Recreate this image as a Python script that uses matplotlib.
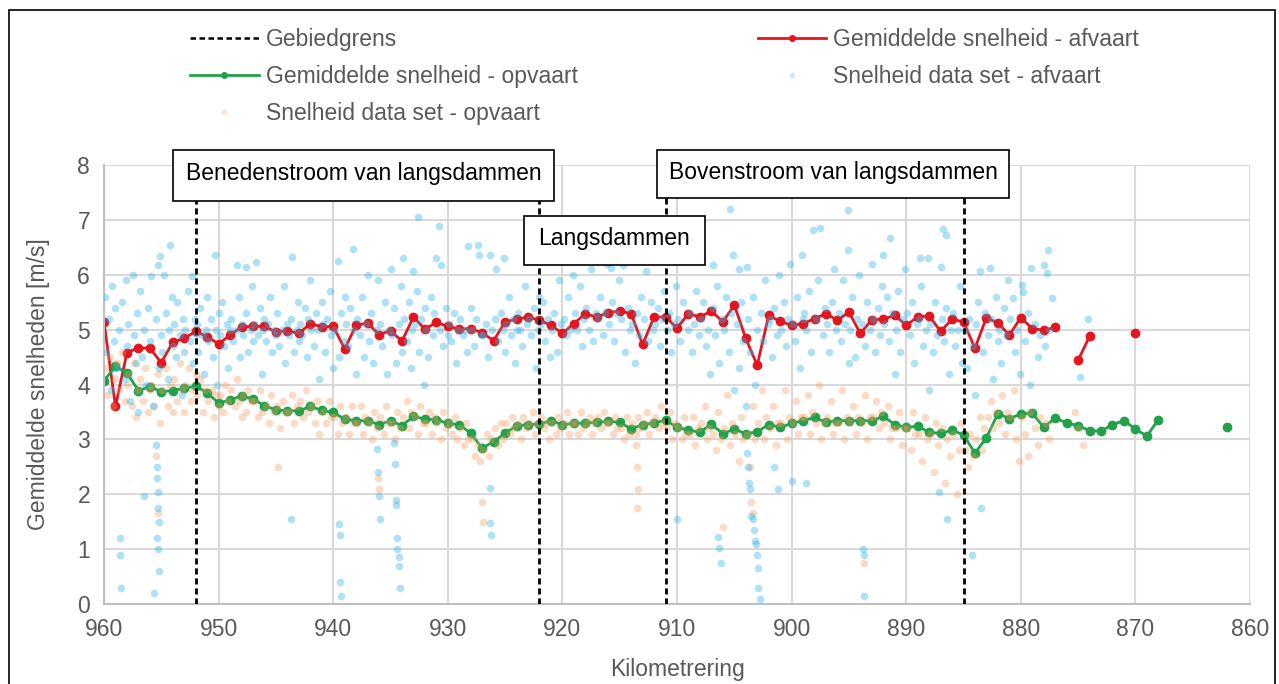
import numpy as np
import matplotlib.pyplot as plt
from matplotlib.lines import Line2D
from matplotlib.patches import Rectangle

plt.rcParams['font.family'] = ['Liberation Sans', 'DejaVu Sans']

nan = np.nan

# Gemiddelde snelheid per kilometer (afvaart), km 960 -> 870
km_afvaart = np.arange(960, 869, -1)
v_afvaart = [
    5.14, 3.60, 4.58, 4.67, 4.66, 4.40, 4.77, 4.84, 4.97, 4.87,
    4.74, 4.90, 5.05, 5.06, 5.06, 4.96, 4.98, 4.93, 5.11, 5.05,
    5.06, 4.65, 5.08, 5.12, 4.91, 4.98, 4.79, 5.23, 5.01, 5.13,
    5.06, 5.01, 5.02, 4.94, 4.80, 5.14, 5.19, 5.23, 5.17, 5.08,
    4.93, 5.11, 5.29, 5.23, 5.31, 5.34, 5.29, 4.73, 5.23, 5.23,
    5.03, 5.29, 5.23, 5.34, 5.14, 5.45, 4.84, 4.35, 5.26, 5.15,
    5.08, 5.11, 5.20, 5.29, 5.17, 5.32, 4.93, 5.18, 5.19, 5.26,
    5.08, 5.23, 5.25, 4.97, 5.19, 5.14, 4.66, 5.22, 5.12, 4.90,
    5.22, 5.02, 4.99, 5.04, nan, 4.44, 4.88, nan, nan, nan,
    4.93,
]

# Gemiddelde snelheid per kilometer (opvaart), km 960 -> 862
km_opvaart = np.arange(960, 861, -1)
v_opvaart = [
    4.07, 4.33, 4.21, 3.89, 3.96, 3.87, 3.89, 3.93, 3.97, 3.85,
    3.66, 3.72, 3.79, 3.74, 3.61, 3.54, 3.52, 3.52, 3.60, 3.53,
    3.49, 3.37, 3.34, 3.34, 3.27, 3.34, 3.25, 3.42, 3.37, 3.36,
    3.29, 3.27, 3.11, 2.84, 2.96, 3.11, 3.25, 3.27, 3.28, 3.34,
    3.27, 3.29, 3.30, 3.31, 3.33, 3.31, 3.19, 3.27, 3.30, 3.35,
    3.22, 3.17, 3.13, 3.28, 3.10, 3.19, 3.10, 3.14, 3.27, 3.22,
    3.29, 3.34, 3.40, 3.31, 3.34, 3.34, 3.34, 3.34, 3.42, 3.27,
    3.22, 3.24, 3.13, 3.11, 3.17, 3.08, 2.75, 3.03, 3.47, 3.38,
    3.46, 3.48, 3.22, 3.39, 3.30, 3.25, 3.16, 3.15, 3.27, 3.34,
    3.19, 3.06, 3.36, nan, nan, nan, nan, nan, 3.23,
]

# Gebiedsgrenzen (km)
gebiedgrens = [952, 922, 911, 885]

# Losse metingen afvaart (km, m/s)
data_afvaart = [
    (959.9, 5.6), (959.8, 4.6), (959.6, 5.2), (959.4, 3.9), (959.3, 5.8), (959.1, 4.8), (959.0, 5.4),
    (958.9, 4.3), (958.7, 5.0), (958.6, 1.2), (958.6, 0.9), (958.5, 0.3), (958.4, 5.5), (958.2, 4.1), (958.1, 5.9), (958.0, 4.7),
    (957.9, 5.1), (957.7, 3.7), (957.5, 6.0), (957.4, 4.9), (957.2, 4.4), (957.1, 5.3), (957.0, 3.5),
    (956.9, 5.7), (956.7, 4.5), (956.5, 1.97), (956.5, 5.0), (956.3, 4.0), (956.2, 5.4), (956.0, 4.8),
    (955.9, 5.98), (955.7, 3.6), (955.5, 2.9), (955.4, 2.5), (955.4, 2.3), (955.3, 2.05), (955.3, 1.75), (955.2, 1.5),
    (955.4, 1.2), (955.3, 1.0), (955.2, 0.6), (955.6, 0.2), (955.3, 6.18), (955.1, 6.34), (955.0, 4.9), (955.5, 5.2), (955.2, 4.3),
    (954.8, 5.99), (954.2, 6.54), (954.9, 4.6), (954.6, 5.3), (954.4, 4.1), (954.3, 5.0), (954.1, 5.6), (954.0, 4.7),
    (953.9, 5.1), (953.7, 4.5), (953.6, 5.5), (953.4, 4.9), (953.2, 3.8), (953.1, 5.2), (953.0, 4.6),
    (952.9, 5.0), (952.7, 5.7), (952.5, 4.8), (952.3, 5.98), (952.2, 4.4), (952.1, 5.2), (952.0, 4.9),
    (951.9, 5.1), (951.8, 4.6), (951.6, 5.4), (951.4, 4.9), (951.3, 4.2), (951.1, 5.0), (951.0, 5.6),
    (950.9, 4.8), (950.7, 5.2), (950.5, 4.5), (950.3, 6.36), (950.2, 5.0), (950.1, 4.0), (950.0, 5.3),
    (949.9, 4.9), (949.7, 5.5), (949.5, 4.7), (949.3, 5.1), (949.2, 4.3), (949.0, 5.0),
    (948.9, 5.2), (948.7, 4.8), (948.4, 6.17), (948.4, 5.0), (948.2, 5.6), (948.1, 4.5), (948.0, 5.1),
    (947.9, 4.9), (947.6, 6.15), (947.6, 5.3), (947.4, 4.6), (947.2, 5.0), (947.1, 5.8), (947.0, 4.8),
    (946.9, 5.1), (946.7, 6.24), (946.6, 4.9), (946.4, 5.4), (946.2, 4.2), (946.1, 5.0), (946.0, 5.2),
    (945.9, 4.8), (945.7, 5.1), (945.5, 5.6), (945.3, 4.6), (945.2, 5.0), (945.0, 4.9),
    (944.9, 5.3), (944.7, 4.7), (944.5, 5.0), (944.3, 5.8), (944.2, 4.4), (944.0, 5.1),
    (943.9, 4.9), (943.7, 5.2), (943.6, 6.32), (943.7, 1.54), (943.4, 4.6), (943.2, 5.0), (943.1, 5.5), (943.0, 4.8),
    (942.9, 5.1), (942.7, 4.9), (942.5, 5.4), (942.3, 4.5), (942.2, 5.2), (942.0, 5.9),
    (941.9, 5.0), (941.7, 4.7), (941.5, 5.3), (941.3, 5.0), (941.2, 4.1), (941.0, 5.5),
    (940.9, 5.1), (940.7, 4.6), (940.5, 5.2), (940.3, 5.7), (940.2, 4.9), (940.0, 4.3),
    (939.9, 5.0), (939.6, 6.25), (939.5, 1.45), (939.4, 1.26), (939.4, 0.4), (939.3, 0.15), (939.5, 4.5), (939.3, 5.3), (939.1, 4.8), (939.0, 5.6),
    (938.9, 5.1), (938.3, 6.47), (938.7, 4.7), (938.5, 5.4), (938.2, 5.0), (938.0, 4.2),
    (937.9, 5.2), (937.7, 4.9), (937.5, 5.6), (937.3, 4.5), (937.1, 5.1), (937.0, 6.0),
    (936.9, 4.8), (936.2, 2.82), (936.1, 2.4), (936.0, 1.97), (935.9, 1.54), (936.7, 5.3), (936.5, 4.4), (936.3, 5.0), (936.1, 5.9),
    (935.9, 5.1), (935.7, 4.7), (935.5, 5.5), (935.3, 4.2), (935.1, 5.0), (935.0, 6.1),
    (934.7, 2.93), (934.6, 2.55), (934.5, 1.9), (934.5, 1.8), (934.4, 1.2), (934.4, 1.0), (934.3, 0.85), (934.3, 0.7), (934.2, 0.3),
    (934.9, 4.9), (934.7, 5.4), (934.5, 4.4), (934.3, 5.1), (934.1, 5.8), (934.0, 4.6),
    (933.9, 6.3), (933.0, 6.06), (933.8, 5.2), (933.6, 4.8), (933.4, 5.5), (933.2, 4.3), (933.1, 5.0),
    (932.6, 7.05), (932.9, 5.1), (932.7, 5.7), (932.5, 4.6), (932.3, 5.2), (932.1, 4.0), (932.0, 5.4),
    (931.0, 6.3), (931.9, 5.0), (931.7, 4.5), (931.5, 5.6), (931.3, 4.9), (931.2, 5.3),
    (930.8, 6.89), (930.6, 6.18), (930.7, 5.0), (930.4, 4.7), (930.2, 5.4), (930.0, 4.9),
    (929.9, 5.1), (929.7, 4.8), (929.5, 5.3), (929.3, 4.4), (929.1, 5.0),
    (928.2, 6.52), (928.9, 5.2), (928.7, 4.9), (928.5, 5.0), (928.3, 4.6), (928.0, 5.4),
    (927.4, 6.54), (927.3, 6.36), (927.9, 5.0), (927.7, 4.7), (927.5, 5.2), (927.1, 4.9),
    (926.3, 6.36), (926.3, 2.12), (926.3, 1.48), (926.2, 1.26), (926.9, 4.9), (926.7, 5.1), (926.5, 4.5), (926.1, 5.0),
    (925.8, 6.1), (925.1, 6.3), (925.9, 5.2), (925.6, 4.8), (925.4, 5.3), (925.2, 5.0), (925.0, 4.6),
    (924.9, 5.1), (924.7, 5.6), (924.5, 4.9), (924.3, 5.2), (924.1, 4.4), (924.0, 5.0),
    (923.9, 5.3), (923.7, 5.0), (923.5, 4.7), (923.3, 5.8), (923.1, 5.1),
    (922.9, 5.2), (922.7, 4.9), (922.5, 5.4), (922.3, 4.3), (922.1, 5.0), (922.0, 5.6),
    (921.9, 5.1), (921.7, 5.5), (921.5, 4.8), (921.3, 5.2), (921.1, 4.5),
    (920.9, 5.0), (920.7, 5.3), (920.5, 4.6), (920.3, 5.9), (920.1, 5.1),
    (919.9, 5.2), (919.7, 4.9), (919.5, 5.6), (919.3, 5.0), (919.1, 6.0),
    (918.9, 5.3), (918.7, 5.0), (918.5, 5.8), (918.3, 4.7), (918.1, 5.2),
    (917.9, 5.4), (917.7, 5.0), (917.5, 6.1), (917.3, 4.8), (917.1, 5.3),
    (915.8, 6.12), (916.9, 5.2), (916.7, 5.6), (916.5, 4.9), (916.3, 5.3), (916.1, 6.2),
    (914.7, 6.18), (915.9, 5.1), (915.7, 5.5), (915.5, 4.8), (915.3, 5.3), (915.1, 5.9),
    (914.9, 5.2), (914.5, 4.6), (914.3, 5.4), (914.1, 5.0),
    (912.7, 6.06), (913.9, 5.1), (913.7, 4.4), (913.5, 5.3), (913.3, 4.9), (913.1, 5.6),
    (912.9, 5.2), (912.5, 4.8), (912.3, 5.5), (912.1, 5.0),
    (911.9, 5.1), (911.7, 5.4), (911.5, 4.7), (911.3, 5.2), (911.1, 5.7),
    (910.0, 1.54), (910.9, 5.0), (910.7, 5.3), (910.5, 4.6), (910.3, 5.1), (910.1, 5.8),
    (909.2, 6.3), (909.9, 5.2), (909.7, 4.8), (909.5, 5.5), (909.0, 5.0),
    (908.9, 5.3), (908.7, 4.6), (908.5, 5.1), (908.3, 5.7), (908.1, 4.9),
    (906.9, 6.18), (907.9, 5.2), (907.7, 5.5), (907.5, 4.7), (907.3, 5.0), (907.1, 4.2),
    (906.4, 1.23), (906.3, 1.02), (906.2, 0.75), (906.9, 5.4), (906.7, 4.9), (906.5, 5.8), (906.3, 4.4), (906.1, 5.2),
    (905.4, 7.2), (905.1, 6.36), (905.9, 5.0), (905.7, 5.6), (905.5, 4.6), (905.3, 5.3), (905.0, 3.9),
    (904.6, 6.1), (903.9, 6.15), (904.8, 5.1), (904.6, 4.3), (904.4, 5.5), (904.2, 4.8), (904.0, 3.6),
    (903.9, 2.76), (903.8, 2.5), (903.7, 2.2), (903.6, 2.1), (903.5, 1.6), (903.4, 1.55), (903.3, 1.35), (903.2, 1.15),
    (903.1, 1.1), (903.0, 0.9), (902.9, 0.65), (902.9, 0.3), (902.8, 0.1),
    (903.8, 5.2), (903.6, 4.6), (903.4, 5.6), (903.2, 4.0), (903.0, 5.0),
    (902.7, 5.3), (902.5, 4.8), (902.3, 5.9), (902.1, 5.1),
    (901.5, 2.5), (901.2, 2.1), (901.9, 5.2), (901.7, 4.5), (901.5, 5.4), (901.3, 4.9), (901.1, 6.0),
    (900.0, 2.25), (898.7, 2.2), (900.9, 5.0), (900.7, 5.5), (900.5, 4.7), (900.3, 5.2), (900.1, 6.2),
    (899.1, 6.36), (899.9, 5.1), (899.7, 4.8), (899.5, 5.6), (899.3, 4.3), (899.0, 5.2),
    (898.1, 6.82), (897.5, 6.85), (898.9, 5.3), (898.7, 5.0), (898.5, 5.7), (898.3, 4.6),
    (897.9, 5.2), (897.7, 5.9), (897.3, 4.9), (897.1, 5.4),
    (896.9, 5.1), (896.7, 4.6), (896.5, 5.5), (896.3, 6.1), (896.1, 5.0),
    (895.1, 7.18), (895.1, 6.45), (895.9, 5.3), (895.7, 4.8), (895.5, 5.9), (895.3, 5.1), (895.0, 4.4),
    (893.8, 1.0), (893.7, 0.9), (893.7, 0.15), (894.9, 5.0), (894.7, 5.6), (894.5, 4.5), (894.3, 5.2), (894.1, 6.0),
    (893.9, 5.1), (893.6, 4.7), (893.4, 5.5), (893.2, 5.0), (893.0, 6.2),
    (892.0, 6.36), (892.9, 5.2), (892.7, 4.6), (892.5, 5.4), (892.3, 4.9), (892.1, 5.8),
    (891.4, 6.67), (891.9, 5.1), (891.7, 5.6), (891.5, 4.8), (891.2, 5.3), (891.0, 4.2),
    (890.9, 5.0), (890.7, 5.7), (890.5, 4.6), (890.3, 5.2), (890.1, 6.1),
    (888.8, 6.3), (889.9, 5.3), (889.7, 4.9), (889.5, 5.5), (889.3, 4.4), (889.1, 5.1),
    (888.1, 6.3), (888.9, 5.2), (888.7, 5.8), (888.5, 4.7), (888.3, 5.0), (888.0, 3.9),
    (887.1, 2.05), (886.8, 6.84), (886.5, 6.72), (887.0, 6.15), (887.9, 5.1), (887.7, 4.6), (887.5, 5.5), (887.3, 4.9),
    (886.4, 1.55), (886.9, 5.2), (886.7, 4.8), (886.5, 5.4), (886.3, 4.2), (886.1, 5.0),
    (885.9, 5.3), (885.7, 4.7), (885.5, 5.0), (885.3, 5.8), (885.1, 4.4),
    (884.3, 0.9), (883.6, 6.06), (884.9, 5.0), (884.7, 4.3), (884.5, 5.2), (884.2, 4.7), (884.0, 3.8),
    (883.5, 1.75), (882.7, 6.12), (883.9, 5.1), (883.7, 5.5), (883.3, 4.6), (883.1, 5.3),
    (882.9, 4.9), (882.6, 5.2), (882.4, 4.1), (882.2, 5.6), (882.0, 4.8),
    (881.9, 5.0), (881.7, 4.4), (881.5, 5.4), (881.3, 4.9), (881.1, 5.9),
    (879.9, 5.81), (879.8, 5.69), (880.7, 5.57), (880.9, 5.2), (880.5, 4.6), (880.3, 5.0), (880.1, 4.2),
    (879.1, 6.12), (879.6, 4.8), (879.4, 5.3), (879.2, 4.0),
    (878.0, 6.18), (878.8, 5.1), (878.5, 4.5), (878.3, 4.9),
    (877.6, 6.45), (877.7, 6.03), (877.3, 5.57), (877.9, 4.7), (877.5, 5.0),
    (874.1, 5.2), (874.8, 4.14),
]

# Losse metingen opvaart (km, m/s)
data_opvaart = [
    (959.9, 4.3), (959.7, 3.8), (959.5, 4.5), (959.2, 3.6), (959.0, 4.1),
    (958.9, 4.4), (958.7, 3.9), (958.4, 4.6), (958.2, 3.7), (958.0, 4.0),
    (957.9, 4.2), (957.6, 3.6), (957.4, 4.4), (957.2, 3.4), (957.0, 3.9),
    (956.9, 4.1), (956.6, 3.7), (956.4, 4.3), (956.2, 3.5), (956.0, 3.9),
    (955.5, 2.7), (955.3, 1.65), (955.9, 4.0), (955.6, 3.6), (955.3, 4.2), (955.1, 3.3),
    (954.9, 3.9), (954.6, 4.3), (954.4, 3.6), (954.2, 4.0), (954.0, 3.5),
    (953.9, 4.1), (953.6, 3.7), (953.4, 4.4), (953.2, 3.9), (953.0, 3.5),
    (952.9, 4.0), (952.6, 4.3), (952.4, 3.7), (952.2, 3.9), (952.0, 4.2),
    (951.9, 3.8), (951.6, 4.1), (951.4, 3.5), (951.2, 3.9),
    (950.9, 3.7), (950.6, 3.9), (950.4, 3.4), (950.2, 3.8), (950.0, 3.6),
    (949.9, 3.8), (949.6, 3.5), (949.4, 4.0), (949.2, 3.7),
    (948.9, 3.9), (948.6, 3.6), (948.4, 4.1), (948.2, 3.7), (948.0, 3.4),
    (947.9, 3.8), (947.6, 3.5), (947.4, 3.9), (947.2, 3.7),
    (946.9, 3.7), (946.6, 3.4), (946.4, 3.9), (946.2, 3.5),
    (944.8, 2.5), (945.9, 3.6), (945.6, 3.3), (945.4, 3.8), (945.2, 3.5),
    (944.9, 3.6), (944.6, 3.2), (944.4, 3.7), (944.2, 3.5),
    (943.9, 3.5), (943.6, 3.8), (943.4, 3.3), (943.2, 3.6),
    (942.9, 3.7), (942.6, 3.4), (942.4, 3.9), (942.2, 3.5),
    (941.9, 3.6), (941.6, 3.3), (941.4, 3.7), (941.2, 3.1),
    (940.9, 3.5), (940.6, 3.3), (940.4, 3.7), (940.2, 3.4),
    (939.9, 3.4), (939.6, 3.1), (939.4, 3.6), (939.2, 3.3),
    (938.9, 3.4), (938.6, 3.1), (938.4, 3.6), (938.2, 3.3),
    (937.9, 3.3), (937.6, 3.6), (937.4, 3.1), (937.2, 3.4),
    (936.1, 2.3), (936.0, 2.1), (936.9, 3.3), (936.6, 3.0), (936.4, 3.5), (936.2, 3.2),
    (935.9, 3.4), (935.6, 3.1), (935.4, 3.6), (935.2, 3.3),
    (934.9, 3.3), (934.6, 3.0), (934.4, 3.5), (934.2, 3.2),
    (933.9, 3.4), (933.6, 3.7), (933.4, 3.2), (933.2, 3.5),
    (932.9, 3.4), (932.6, 3.1), (932.4, 3.6), (932.2, 3.3),
    (931.9, 3.3), (931.6, 3.5), (931.4, 3.1), (931.2, 3.4),
    (930.9, 3.3), (930.6, 3.0), (930.4, 3.5), (930.2, 3.2),
    (929.9, 3.3), (929.6, 3.1), (929.4, 3.4), (929.2, 3.0),
    (928.9, 3.2), (928.6, 2.9), (928.4, 3.3), (928.2, 3.0),
    (927.0, 1.85), (926.9, 1.5), (927.9, 3.0), (927.6, 2.7), (927.4, 2.9), (927.2, 2.6),
    (926.9, 2.8), (926.6, 3.1), (926.4, 2.7), (926.2, 3.0),
    (925.9, 3.2), (925.6, 2.9), (925.4, 3.3), (925.2, 3.0),
    (924.9, 3.3), (924.6, 3.1), (924.4, 3.4), (924.2, 3.2),
    (923.9, 3.3), (923.6, 3.0), (923.4, 3.4), (923.2, 3.2),
    (922.9, 3.3), (922.6, 3.5), (922.4, 3.1), (922.2, 3.3),
    (921.9, 3.4), (921.6, 3.2), (921.4, 3.3), (921.2, 3.0),
    (920.9, 3.3), (920.6, 3.1), (920.4, 3.4), (920.2, 3.2),
    (919.9, 3.3), (919.6, 3.5), (919.4, 3.1), (919.2, 3.3),
    (918.9, 3.3), (918.6, 3.1), (918.4, 3.5), (918.2, 3.2),
    (917.9, 3.3), (917.6, 3.4), (917.4, 3.1), (917.2, 3.3),
    (916.9, 3.4), (916.6, 3.2), (916.4, 3.5), (916.2, 3.3),
    (915.9, 3.3), (915.6, 3.1), (915.4, 3.4), (915.2, 3.2),
    (914.9, 3.2), (914.6, 3.0), (914.4, 3.4), (914.2, 3.1),
    (913.6, 2.9), (913.5, 2.5), (913.4, 2.1), (913.5, 1.75), (913.9, 3.3), (913.6, 3.1), (913.4, 3.4), (913.2, 3.2),
    (912.9, 3.3), (912.6, 3.5), (912.4, 3.1), (912.2, 3.3),
    (911.9, 3.4), (911.6, 3.2), (911.4, 3.6), (911.2, 3.3),
    (910.9, 3.2), (910.6, 3.5), (910.4, 3.0), (910.2, 3.3),
    (909.9, 3.2), (909.6, 3.0), (909.4, 3.4), (909.2, 3.1),
    (908.9, 3.1), (908.6, 3.4), (908.4, 2.9), (908.2, 3.2),
    (907.9, 3.3), (907.6, 3.6), (907.4, 3.0), (907.2, 3.2),
    (906.0, 1.4), (906.9, 3.1), (906.6, 2.8), (906.4, 3.5), (906.2, 3.0),
    (905.9, 3.2), (905.6, 3.8), (905.4, 2.9), (905.2, 3.3),
    (904.9, 3.1), (904.6, 2.6), (904.4, 3.4), (904.2, 3.0),
    (903.5, 1.85), (903.4, 1.65), (903.9, 3.1), (903.6, 2.5), (903.4, 3.6), (903.2, 3.0),
    (902.9, 3.3), (902.6, 3.9), (902.4, 3.0), (902.2, 3.4),
    (901.9, 3.2), (901.6, 3.6), (901.4, 2.9), (901.2, 3.3),
    (900.9, 3.3), (900.6, 3.9), (900.4, 3.0), (900.2, 3.4),
    (899.9, 3.3), (899.6, 3.7), (899.4, 3.1), (899.2, 3.4),
    (898.9, 3.4), (898.6, 3.8), (898.4, 3.1), (898.2, 3.5),
    (897.9, 3.3), (897.6, 4.0), (897.4, 3.0), (897.2, 3.3),
    (896.9, 3.4), (896.6, 3.7), (896.4, 3.1), (896.2, 3.3),
    (895.9, 3.3), (895.6, 3.9), (895.4, 3.0), (895.2, 3.4),
    (893.7, 0.75), (894.9, 3.3), (894.6, 3.6), (894.4, 3.1), (894.2, 3.4),
    (893.9, 3.3), (893.6, 3.8), (893.4, 3.0), (893.2, 3.4),
    (892.9, 3.4), (892.6, 3.7), (892.4, 3.2), (892.2, 3.5),
    (891.9, 3.3), (891.6, 3.6), (891.4, 3.0), (891.2, 3.2),
    (890.9, 3.2), (890.6, 3.5), (890.4, 2.9), (890.2, 3.2),
    (889.9, 3.2), (889.6, 2.8), (889.4, 3.5), (889.2, 3.1),
    (888.9, 3.1), (888.6, 2.6), (888.4, 3.4), (888.2, 3.0),
    (887.9, 3.1), (887.6, 2.4), (887.4, 3.3), (887.2, 2.9),
    (886.9, 3.2), (886.6, 2.2), (886.4, 3.0), (886.2, 2.7),
    (885.9, 3.1), (885.6, 2.0), (885.4, 2.8), (885.2, 3.3),
    (884.9, 2.8), (884.6, 2.5), (884.4, 3.1), (884.2, 2.7),
    (883.9, 3.0), (883.6, 3.4), (883.4, 2.8), (883.2, 3.2),
    (882.9, 3.4), (882.6, 3.7), (882.4, 3.2), (882.2, 3.5),
    (881.9, 3.3), (881.6, 3.8), (881.4, 3.1), (881.2, 3.5),
    (880.9, 3.4), (880.6, 3.9), (880.4, 3.0), (880.2, 2.6),
    (879.9, 3.4), (879.6, 3.1), (879.4, 2.7), (879.2, 3.5),
    (878.8, 3.2), (878.5, 2.9), (878.3, 3.4),
    (877.8, 3.3), (877.5, 3.0),
    (875.3, 3.5), (875.0, 3.2), (874.6, 2.9),
]

# Gebiedsnamen en kaders (figuur-pixels: links, boven, rechts, onder)
gebieden = ["Benedenstroom van langsdammen", "Langsdammen", "Bovenstroom van langsdammen"]
kaders = [(173, 150, 554, 201), (524, 216, 705, 265), (657, 150, 1009, 198)]

GREY = '#595959'
RED = '#e3151e'
GREEN = '#21a24a'
BLUE = '#2fb1e6'
ORANGE = '#f39a5c'
FS = 16.5

W, H = 1279, 684
fig = plt.figure(figsize=(W / 100, H / 100), dpi=100)
ax = fig.add_axes([104 / W, 1 - 604 / H, (1250 - 104) / W, (604 - 165) / H])

# gemiddelde lijnen onder de puntenwolk
ax.plot(km_afvaart, v_afvaart, color=RED, lw=2, marker='o', ms=6, zorder=2)
ax.plot(km_opvaart, v_opvaart, color=GREEN, lw=2, marker='o', ms=6, zorder=2)

xa, ya = zip(*data_afvaart)
xo, yo = zip(*data_opvaart)
ax.scatter(xo, yo, s=30, color=ORANGE, alpha=0.35, lw=0, zorder=3)
ax.scatter(xa, ya, s=30, color=BLUE, alpha=0.38, lw=0, zorder=3)

for g in gebiedgrens:
    ax.axvline(g, color='black', lw=2, ls=(0, (2.2, 1.4)), zorder=4)

ax.set_xlim(960, 860)
ax.set_ylim(0, 8)
ax.set_xticks(np.arange(960, 859, -10))
ax.set_yticks(np.arange(0, 9, 1))
ax.grid(True, color='#d9d9d9', lw=1.5, zorder=0)
ax.set_axisbelow(True)
for s in ['top', 'right']:
    ax.spines[s].set_visible(False)
for s in ['left', 'bottom']:
    ax.spines[s].set_color('#bfbfbf')
    ax.spines[s].set_linewidth(1.5)
ax.tick_params(length=0, labelsize=FS, colors=GREY, pad=10)
ax.set_xlabel('Kilometrering', fontsize=FS, color=GREY, labelpad=12)
ax.set_ylabel('Gemiddelde snelheden [m/s]', fontsize=FS, color=GREY, labelpad=20)

# legenda
handles = [
    Line2D([], [], color='black', lw=1.8, ls=(0, (2.2, 1.4))),
    Line2D([], [], color=GREEN, lw=2, marker='o', ms=4),
    Line2D([], [], color=ORANGE, lw=0, marker='o', ms=3, alpha=0.2),
    Line2D([], [], color=RED, lw=2, marker='o', ms=4),
    Line2D([], [], color=BLUE, lw=0, marker='o', ms=3, alpha=0.2),
]
labels = ['Gebiedgrens', 'Gemiddelde snelheid - opvaart', 'Snelheid data set - opvaart',
          'Gemiddelde snelheid - afvaart', 'Snelheid data set - afvaart']
leg = fig.legend(handles, labels, ncol=2, loc='upper left', bbox_to_anchor=(190 / W, 1 - 28 / H),
                 frameon=False, fontsize=FS, handlelength=3.0, handletextpad=0.3,
                 columnspacing=7.85, labelspacing=0.62, borderpad=0, borderaxespad=0)
for t in leg.get_texts():
    t.set_color(GREY)

# gebiedskaders
for naam, (l, t, r, b) in zip(gebieden, kaders):
    fig.add_artist(Rectangle((l / W, 1 - b / H), (r - l) / W, (b - t) / H, transform=fig.transFigure,
                             facecolor='white', edgecolor='black', lw=1.2, zorder=5))
    fig.text((l + r) / 2 / W, 1 - ((t + b) / 2 - 2) / H, naam, ha='center', va='center',
             fontsize=FS, color='black', zorder=6)

# rand om de figuur
fig.add_artist(Rectangle((9 / W, -0.01), (1275 - 9) / W, 1.01 - 10 / H, transform=fig.transFigure,
                         fill=False, edgecolor='black', lw=1.2))

fig.savefig('out.png', dpi=100)
